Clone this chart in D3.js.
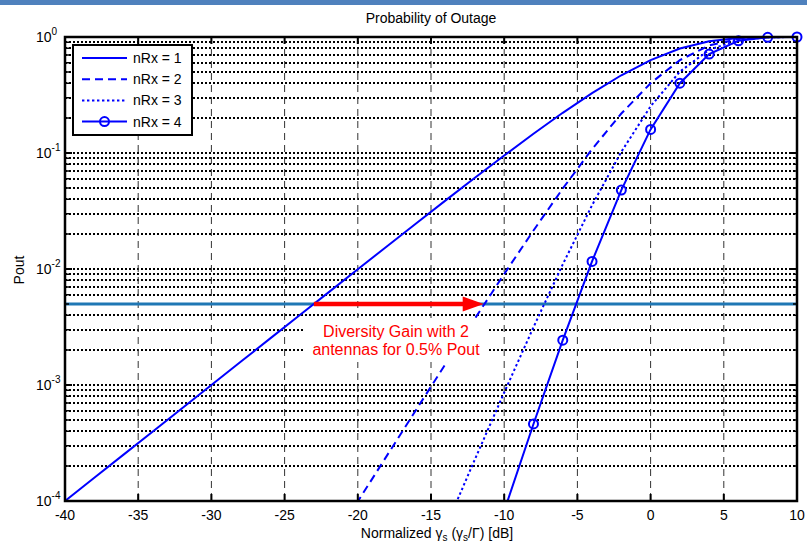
<!DOCTYPE html>
<html>
<head>
<meta charset="utf-8">
<script src="https://cdn.jsdelivr.net/npm/d3@7"></script>
<style>
  body { margin: 0; background: #fff; }
  svg { display: block; font-family: Arial, "Liberation Sans", sans-serif; }
</style>
</head>
<body>
<svg id="outage"></svg>
<script>
const snrDb = [-40, -38, -36, -34, -32, -30, -28, -26, -24, -22, -20, -18, -16, -14, -12, -10, -8, -6, -4, -2, 0, 2, 4, 6, 8, 10];
const poutRx1 = [1.0e-4, 1.585e-4, 2.512e-4, 3.980e-4, 6.308e-4, 9.995e-4, 1.584e-3, 2.509e-3, 3.973e-3, 6.290e-3, 9.950e-3, 0.01572, 0.02481, 0.03903, 0.06115, 0.09516, 0.1466, 0.2221, 0.3284, 0.4679, 0.6321, 0.7950, 0.9189, 0.9813, 0.9982, 0.99995];
const poutRx2 = [null, null, null, null, null, null, null, null, null, 3.956e-5, 9.900e-5, 2.472e-4, 6.154e-4, 1.523e-3, 3.739e-3, 9.056e-3, 0.02148, 0.04935, 0.1079, 0.2189, 0.3996, 0.6320, 0.8444, 0.9630, 0.9964, 0.9999];
const poutRx3 = [null, null, null, null, null, null, null, null, null, null, null, null, 1.527e-5, 5.946e-5, 2.287e-4, 8.618e-4, 3.149e-3, 0.01096, 0.03542, 0.1024, 0.2526, 0.5025, 0.7759, 0.9450, 0.9946, 0.9999];
const poutRx4 = [null, null, null, null, null, null, null, null, null, null, null, null, null, null, 1.398e-5, 8.201e-5, 4.615e-4, 2.435e-3, 0.01163, 0.04794, 0.1597, 0.3995, 0.7130, 0.9274, 0.9928, 0.9998];
const seriesNames = ["nRx = 1", "nRx = 2", "nRx = 3", "nRx = 4"];
const xTicks = [-40, -35, -30, -25, -20, -15, -10, -5, 0, 5, 10];
const yDecades = [-4, -3, -2, -1, 0];
const poutTarget = 0.005; // 0.5% outage line
const gainFrom = -23.0, gainTo = -11.4; // where nRx=1 and nRx=2 cross 0.5%
const noteLines = ["Diversity Gain with 2", "antennas for 0.5% Pout"];

const W = 807, H = 543;
const plot = { left: 65, right: 797, top: 37, bottom: 501 };
const blue = "#0000ff";
const dashes = [null, "8,5", "2.4,2.6", null];

const svg = d3.select("#outage").attr("width", W).attr("height", H);

svg.append("rect").attr("width", W).attr("height", H).attr("fill", "#fff");
svg.append("rect").attr("width", W).attr("height", 5).attr("fill", "#4f81bd");

const x = d3.scaleLinear().domain([-40, 10]).range([plot.left, plot.right]);
const y = d3.scaleLog().domain([1e-4, 1]).range([plot.bottom, plot.top]);

svg.append("clipPath").attr("id", "plotClip")
  .append("rect")
  .attr("x", plot.left).attr("y", plot.top)
  .attr("width", plot.right - plot.left).attr("height", plot.bottom - plot.top);

// grid: dotted horizontal lines for every decade and minor tick
const yGridVals = [];
yDecades.forEach((e) => {
  for (let m = 1; m <= 9; m++) {
    const v = m * Math.pow(10, e);
    if (v > 1e-4 && v < 1) yGridVals.push(v);
  }
});

const grid = svg.append("g").attr("class", "grid");
grid.selectAll(".hgrid")
  .data(yGridVals)
  .enter()
  .append("line")
  .attr("x1", plot.left).attr("x2", plot.right)
  .attr("y1", (d) => Math.round(y(d))).attr("y2", (d) => Math.round(y(d)))
  .style("stroke", "#000")
  .style("stroke-width", 2)
  .style("stroke-dasharray", "2,2");

grid.selectAll(".vgrid")
  .data(xTicks.slice(1, -1))
  .enter()
  .append("line")
  .attr("x1", (d) => x(d)).attr("x2", (d) => x(d))
  .attr("y1", plot.top).attr("y2", plot.bottom)
  .style("stroke", "#333")
  .style("stroke-width", 1)
  .style("stroke-dasharray", "7,5");

// 0.5% horizontal reference line
svg.append("line")
  .attr("x1", x(-40)).attr("x2", x(10))
  .attr("y1", y(poutTarget)).attr("y2", y(poutTarget))
  .style("stroke", "#1f77b4")
  .style("stroke-width", 3);

// curves
const allSeries = [poutRx1, poutRx2, poutRx3, poutRx4];
const line = d3.line()
  .defined((d) => d[1] !== null)
  .x((d) => x(d[0]))
  .y((d) => y(d[1]));

const curves = svg.append("g").attr("clip-path", "url(#plotClip)");
curves.selectAll(".curve")
  .data(allSeries)
  .enter()
  .append("path")
  .attr("d", (s) => line(snrDb.map((v, i) => [v, s[i]])))
  .style("fill", "none")
  .style("stroke", blue)
  .style("stroke-width", 2)
  .style("stroke-dasharray", (d, i) => dashes[i]);

const markerPts = snrDb
  .map((v, i) => [v, poutRx4[i]])
  .filter((d) => d[1] !== null && d[1] >= 1e-4);

svg.selectAll(".marker")
  .data(markerPts)
  .enter()
  .append("circle")
  .attr("cx", (d) => x(d[0]))
  .attr("cy", (d) => y(d[1]))
  .attr("r", 4.5)
  .style("fill", "none")
  .style("stroke", blue)
  .style("stroke-width", 2);

// red diversity gain arrow
const arrowY = y(poutTarget);
const tipX = x(gainTo);
svg.append("line")
  .attr("x1", x(gainFrom)).attr("x2", tipX - 18)
  .attr("y1", arrowY).attr("y2", arrowY)
  .style("stroke", "#ff0000")
  .style("stroke-width", 4.5);
svg.append("path")
  .attr("d", `M${tipX},${arrowY} L${tipX - 21},${arrowY - 7.5} L${tipX - 21},${arrowY + 7.5} Z`)
  .style("fill", "#ff0000");

// annotation with white background box
svg.append("rect")
  .attr("x", 303).attr("y", 318)
  .attr("width", 185).attr("height", 44)
  .style("fill", "#fff");

svg.selectAll(".note")
  .data(noteLines)
  .enter()
  .append("text")
  .attr("x", 396)
  .attr("y", (d, i) => 337 + i * 17.5)
  .attr("text-anchor", "middle")
  .style("font-size", "16px")
  .style("fill", "#ff0000")
  .text((d) => d);

// axes frame and ticks
const axes = svg.append("g").attr("class", "axes");
axes.selectAll(".xtick")
  .data(xTicks.slice(1, -1))
  .enter()
  .append("path")
  .attr("d", (d) => `M${x(d)},${plot.bottom}v-7M${x(d)},${plot.top}v7`)
  .style("stroke", "#000")
  .style("stroke-width", 2);

const yMinor = yGridVals.filter((v) => !yDecades.some((e) => Math.abs(v - Math.pow(10, e)) < 1e-12));
axes.selectAll(".yminor")
  .data(yMinor)
  .enter()
  .append("path")
  .attr("d", (d) => `M${plot.left},${y(d)}h4M${plot.right},${y(d)}h-4`)
  .style("stroke", "#000")
  .style("stroke-width", 1.5);

axes.selectAll(".ymajor")
  .data(yDecades.slice(1, -1))
  .enter()
  .append("path")
  .attr("d", (e) => `M${plot.left},${y(Math.pow(10, e))}h7M${plot.right},${y(Math.pow(10, e))}h-7`)
  .style("stroke", "#000")
  .style("stroke-width", 2);

axes.append("rect")
  .attr("x", plot.left).attr("y", plot.top)
  .attr("width", plot.right - plot.left).attr("height", plot.bottom - plot.top)
  .style("fill", "none")
  .style("stroke", "#000")
  .style("stroke-width", 2.5);

// tick labels
axes.selectAll(".xlabel")
  .data(xTicks)
  .enter()
  .append("text")
  .attr("x", (d) => x(d))
  .attr("y", 520)
  .attr("text-anchor", "middle")
  .style("font-size", "14px")
  .text((d) => d);

const ylab = axes.selectAll(".ylabel")
  .data(yDecades)
  .enter()
  .append("text")
  .attr("x", 36)
  .attr("y", (e) => y(Math.pow(10, e)) + 5)
  .style("font-size", "14px");
ylab.append("tspan").text("10");
ylab.append("tspan")
  .attr("dy", -7)
  .style("font-size", "10px")
  .text((e) => e);

// legend
const legend = svg.append("g").attr("class", "legend");
legend.append("rect")
  .attr("x", 73).attr("y", 45)
  .attr("width", 119).attr("height", 90)
  .style("fill", "#fff")
  .style("stroke", "#000")
  .style("stroke-width", 2);

const legRow = legend.selectAll(".row")
  .data(seriesNames)
  .enter()
  .append("g")
  .attr("transform", (d, i) => `translate(0,${58 + i * 21.2})`);

legRow.append("line")
  .attr("x1", 82).attr("x2", 127)
  .style("stroke", blue)
  .style("stroke-width", 2)
  .style("stroke-dasharray", (d, i) => dashes[i]);

legRow.filter((d, i) => i === 3)
  .append("circle")
  .attr("cx", 104.5).attr("r", 4.5)
  .style("fill", "none")
  .style("stroke", blue)
  .style("stroke-width", 2);

legRow.append("text")
  .attr("x", 133)
  .attr("y", 5)
  .style("font-size", "14px")
  .text((d) => d);

// titles
svg.append("text")
  .attr("x", 431).attr("y", 23)
  .attr("text-anchor", "middle")
  .style("font-size", "14px")
  .text("Probability of Outage");

svg.append("text")
  .attr("transform", "translate(24,270) rotate(-90)")
  .attr("text-anchor", "middle")
  .style("font-size", "14px")
  .text("Pout");

const xl = svg.append("text")
  .attr("x", 437).attr("y", 538)
  .attr("text-anchor", "middle")
  .style("font-size", "14px");
xl.append("tspan").text("Normalized \u03b3");
xl.append("tspan").attr("dy", 3).style("font-size", "10px").text("s");
xl.append("tspan").attr("dy", -3).text(" (\u03b3");
xl.append("tspan").attr("dy", 3).style("font-size", "10px").text("s");
xl.append("tspan").attr("dy", -3).text("/\u0393) [dB]");
</script>
</body>
</html>
